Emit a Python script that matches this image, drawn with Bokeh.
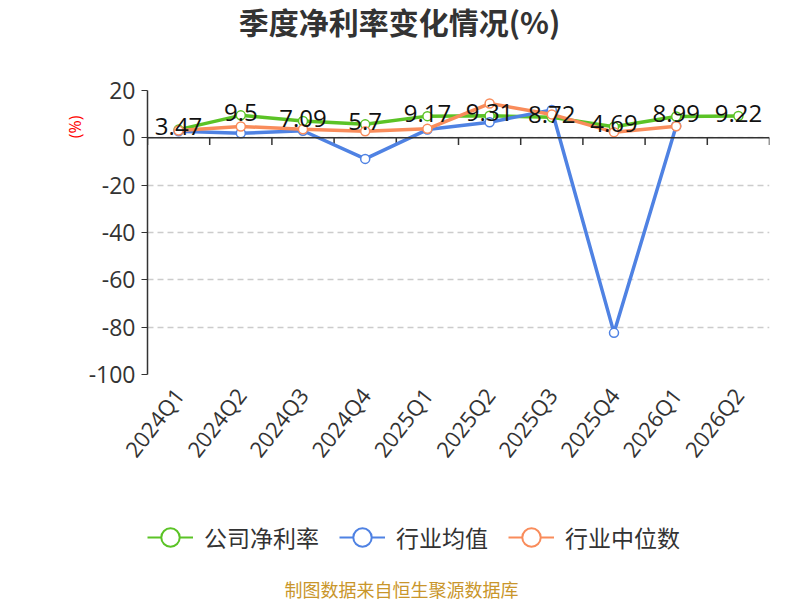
import math
from bokeh.plotting import figure
from bokeh.layouts import column
from bokeh.models import (FactorRange, Range1d, FixedTicker, Span, Legend, LegendItem, Title, Label)
from bokeh.embed import file_html
from bokeh.resources import INLINE
from bokeh.core.properties import value

quarters = ["2024Q1", "2024Q2", "2024Q3", "2024Q4", "2025Q1",
            "2025Q2", "2025Q3", "2025Q4", "2026Q1", "2026Q2"]
company = [3.47, 9.5, 7.09, 5.7, 9.17, 9.31, 8.72, 4.69, 8.99, 9.22]
industry_avg = [2.8, 1.9, 3.0, -8.9, 3.5, 6.6, 11.8, -82.4, 5.0]
industry_median = [3.1, 4.8, 3.6, 2.8, 3.8, 14.5, 9.9, 2.4, 4.9]
y_ticks = [-100, -80, -60, -40, -20, 0, 20]

GREEN = "#5bc326"
BLUE = "#4f82e3"
ORANGE = "#f98c5b"
CJK = "Noto Sans CJK SC"
LAT = "Open Sans"
W = 800
LEFT, RIGHT = 147, 31
NAN = float("nan")


def strip(h):
    # frames of plots in a column are aligned with the main chart's frame,
    # so map the frame to page pixels LEFT..W-RIGHT
    f = figure(width=W, height=h, x_range=Range1d(LEFT, W - RIGHT), y_range=Range1d(0, h),
               output_backend="svg", toolbar_location=None,
               x_axis_location=None, y_axis_location=None,
               min_border_left=LEFT, min_border_right=RIGHT,
               min_border_top=0, min_border_bottom=0)
    f.outline_line_color = None
    f.grid.visible = False
    return f


# ---- top strip: title ----
top = strip(70)
top.add_layout(Label(x=399, y=50, text="季度净利率变化情况(%)", text_font=CJK,
                     text_font_size="30px", text_font_style="bold", text_color="#333333",
                     text_align="center", text_baseline="middle"))

# ---- main chart ----
p = figure(width=W, height=414,
           x_range=FactorRange(*quarters, range_padding=0),
           y_range=Range1d(-100, 20),
           output_backend="svg", toolbar_location=None,
           min_border_left=LEFT, min_border_right=RIGHT,
           min_border_top=20, min_border_bottom=110)
p.outline_line_color = None

p.yaxis.ticker = FixedTicker(ticks=y_ticks)
p.yaxis.major_label_overrides = {t: str(t) for t in y_ticks}
p.yaxis.major_label_text_font = LAT
p.yaxis.major_label_text_font_size = "23px"
p.yaxis.major_label_text_color = "#333333"
p.yaxis.axis_line_color = "#333333"
p.yaxis.axis_line_width = 1.5
p.yaxis.major_tick_line_color = "#333333"
p.yaxis.major_tick_out = 6
p.yaxis.major_tick_in = 0
p.yaxis.minor_tick_line_color = None
p.yaxis.major_label_standoff = 6

p.add_layout(Title(text="(%)", text_font=LAT, text_font_size="16px",
                   text_font_style="normal", text_color="#ff0000",
                   align="right", offset=25, standoff=0), "left")

p.xaxis.axis_line_color = None
p.xaxis.major_tick_line_color = None
p.xaxis.minor_tick_line_color = None
p.xaxis.major_label_orientation = math.radians(52)
p.xaxis.major_label_text_font = LAT
p.xaxis.major_label_text_font_size = "22px"
p.xaxis.major_label_text_color = "#333333"
p.xaxis.major_label_standoff = 10

p.xgrid.grid_line_color = None
p.ygrid.ticker = FixedTicker(ticks=y_ticks)
p.ygrid.grid_line_color = "#cccccc"
p.ygrid.grid_line_width = 1.5
p.ygrid.grid_line_dash = "6 4"

# zero axis line with category boundary ticks
p.add_layout(Span(location=0, dimension="width", line_color="#333333", line_width=1.5))
bounds = list(range(len(quarters) + 1))
p.segment(x0=bounds, y0=[0] * len(bounds), x1=bounds, y1=[-3] * len(bounds),
          line_color="#333333", line_width=1.5)

series = [("公司净利率", company, GREEN), ("行业均值", industry_avg, BLUE),
          ("行业中位数", industry_median, ORANGE)]
for name, vals, col in series:
    xs = quarters[:len(vals)]
    p.line(xs, vals, line_color=col, line_width=3.5)
    p.scatter(xs, vals, size=9, fill_color="white", line_color=col, line_width=1.5)

p.text(x=quarters, y=company, text=[str(v) for v in company],
       text_font=value(LAT), text_font_size="24px", text_color="#111111",
       text_align="center", text_baseline="middle", y_offset=-3)

# ---- bottom strip: legend + source ----
bot = strip(116)
items = []
for name, vals, col in series:
    # legend proxies: one NaN row so styles resolve, nothing visible is drawn
    lg_line = bot.line([NAN], [NAN], line_color=col, line_width=2)
    lg_pt = bot.scatter([NAN], [NAN], fill_color="white", line_color=col, line_width=2)
    items.append(LegendItem(label=name, renderers=[lg_line, lg_pt]))

legend = Legend(items=items, orientation="horizontal", location=(0, 40))
legend.label_text_font = CJK
legend.label_text_font_size = "23px"
legend.label_text_color = "#333333"
legend.glyph_width = 46
legend.glyph_height = 46
legend.label_height = 46
legend.label_standoff = 11
legend.spacing = 20
legend.padding = 0
legend.margin = 0
legend.border_line_color = None
legend.background_fill_alpha = 0
bot.add_layout(legend)

bot.add_layout(Label(x=401, y=12, text="制图数据来自恒生聚源数据库", text_font=CJK,
                     text_font_size="18px", text_color="#c9962b",
                     text_align="center", text_baseline="middle"))

layout = column(top, p, bot, spacing=0)
open("out.html", "w").write(file_html(layout, INLINE))
